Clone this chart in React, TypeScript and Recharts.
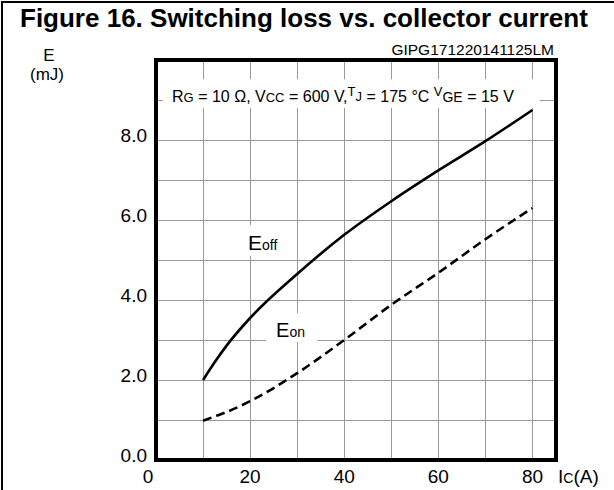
import React from "react";
import { LineChart, Line, XAxis, YAxis, CartesianGrid, ReferenceArea } from "recharts";

// collector current (A)
const current = [10, 12.5, 15, 20, 30, 40, 50, 60, 70, 80];
// switching energies (mJ)
const eOff = [2.0, 2.45, 2.86, 3.55, 4.65, 5.63, 6.47, 7.24, 7.97, 8.75];
const eOn = [0.98, 1.09, 1.2, 1.47, 2.17, 3.0, 3.88, 4.68, 5.52, 6.3];

const xTicks = [0, 10, 20, 30, 40, 50, 60, 70, 80];
const yTicks = [0, 1, 2, 3, 4, 5, 6, 7, 8, 9, 10];
const xLabels = [0, 20, 40, 60, 80];
const yLabels = [0, 2, 4, 6, 8];

const data = current.map((ic, i) => ({ ic, off: eOff[i], on: eOn[i] }));

const FONT = "Arial, 'Liberation Sans', Helvetica, sans-serif";
const GRID = "#9a9a9a";

const XTick = (props: any) => {
    const { x, payload } = props;
    if (!xLabels.includes(payload.value)) return <g />;
    return (
        <text x={payload.value === 0 ? x - 8 : x} y={483} textAnchor="middle" fontSize={19} fontFamily={FONT} fill="#000">
            {payload.value}
        </text>
    );
};

const YTick = (props: any) => {
    const { y, payload } = props;
    if (!yLabels.includes(payload.value)) return <g />;
    return (
        <text x={147} y={y + 2} textAnchor="end" fontSize={19} fontFamily={FONT} fill="#000">
            {payload.value.toFixed(1)}
        </text>
    );
};

// texts around the plot, placed from the plot box corner
const FrameTexts = (props: any) => {
    const vb = props.viewBox || { x: 156, y: 60 };
    const { x, y } = vb;
    return (
        <g fontFamily={FONT} fill="#000">
            <path d={`M${x - 154},${y + 430}L${x - 154},${y - 58}L${x + 458},${y - 58}`} stroke="#000" strokeWidth={2} fill="none" />
            <text x={x - 136} y={y - 33} fontSize={26} fontWeight="bold">
                Figure 16. Switching loss vs. collector current
            </text>
            <text x={x + 398} y={y - 5} fontSize={15.5} textAnchor="end">
                GIPG171220141125LM
            </text>
            <text x={x - 107} y={y + 1} fontSize={17} textAnchor="middle">E</text>
            <text x={x - 109} y={y + 20} fontSize={17} textAnchor="middle">(mJ)</text>
            <text x={x + 402} y={y + 423} fontSize={19}>
                I<tspan fontSize={14}>C</tspan>(A)
            </text>
        </g>
    );
};

const ConditionLabel = (props: any) => {
    const vb = props.viewBox || { x: 163, y: 79 };
    return (
        <text x={vb.x + 9} y={vb.y + 23} fontSize={16} fontFamily={FONT} fill="#000">
            R<tspan fontSize={13}>G</tspan> = 10 Ω, V<tspan fontSize={13}>CC</tspan> = 600 V,
            <tspan fontSize={13} dy={-6}>T</tspan>
            <tspan fontSize={13} dy={5}>J</tspan>
            <tspan dy={1}> = 175 °C </tspan>
            <tspan fontSize={13} dy={-6}>V</tspan>
            <tspan fontSize={14} dy={6}>GE</tspan> = 15 V
        </text>
    );
};

const OffLabel = (props: any) => {
    const vb = props.viewBox || { x: 243, y: 225 };
    return (
        <text x={vb.x + 5} y={vb.y + 25} fontSize={21} fontFamily={FONT} fill="#000">
            E<tspan fontSize={14}>off</tspan>
        </text>
    );
};

const OnLabel = (props: any) => {
    const vb = props.viewBox || { x: 265, y: 313 };
    return (
        <text x={vb.x + 10} y={vb.y + 24} fontSize={20} fontFamily={FONT} fill="#000">
            E<tspan fontSize={14}>on</tspan>
        </text>
    );
};

export default function App() {
    return (
        <div style={{ position: "absolute", left: 0, top: 0, width: 614, height: 490, background: "#fff" }}>
            <LineChart width={614} height={490} data={data} margin={{ top: 60, right: 58, bottom: 0, left: 96 }}>
                <CartesianGrid stroke={GRID} strokeWidth={1} shapeRendering="crispEdges" />
                <XAxis
                    dataKey="ic"
                    type="number"
                    domain={[0, 85]}
                    ticks={xTicks}
                    height={30}
                    axisLine={false}
                    tickLine={false}
                    tick={<XTick />}
                    interval={0}
                />
                <YAxis
                    type="number"
                    domain={[0, 10]}
                    ticks={yTicks}
                    width={60}
                    axisLine={false}
                    tickLine={false}
                    tick={<YTick />}
                    interval={0}
                />
                {/* white label boxes that break the grid */}
                <ReferenceArea x1={1.5} x2={81.6} y1={8.8} y2={9.52} fill="#fff" fillOpacity={1} stroke="none" label={<ConditionLabel />} />
                <ReferenceArea x1={18.5} x2={26.8} y1={5.1} y2={5.87} fill="#fff" fillOpacity={1} stroke="none" label={<OffLabel />} />
                <ReferenceArea x1={23.4} x2={34.3} y1={2.95} y2={3.67} fill="#fff" fillOpacity={1} stroke="none" label={<OnLabel />} />
                <Line type="monotone" dataKey="off" stroke="#000" strokeWidth={2.6} dot={false} isAnimationActive={false} />
                <Line
                    type="monotone"
                    dataKey="on"
                    stroke="#000"
                    strokeWidth={2.6}
                    strokeDasharray="9 5"
                    dot={false}
                    isAnimationActive={false}
                />
                {/* plot border */}
                <ReferenceArea
                    x1={0}
                    x2={85}
                    y1={0}
                    y2={10}
                    fill="none"
                    fillOpacity={0}
                    stroke="#000"
                    strokeWidth={4}
                    ifOverflow="visible"
                    label={<FrameTexts />}
                />
            </LineChart>
        </div>
    );
}
